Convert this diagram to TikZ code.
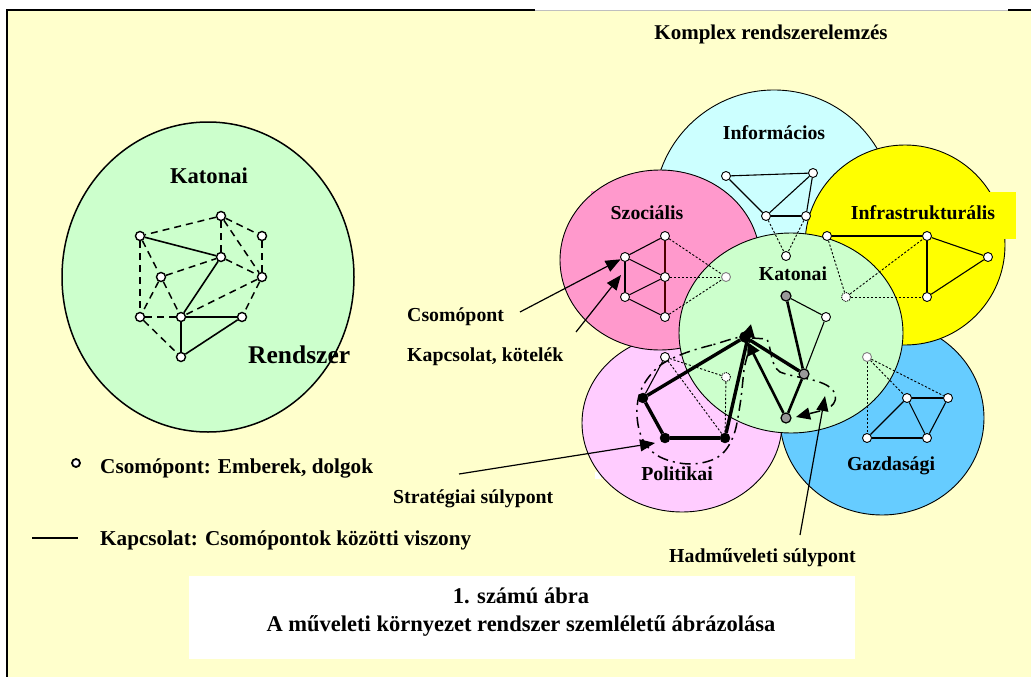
\documentclass[tikz,border=0pt]{standalone}
\usepackage{fontspec}
\setmainfont{Liberation Serif}
\usetikzlibrary{arrows.meta}
\definecolor{cream}{HTML}{FFFFCC}
\definecolor{mint}{HTML}{CCFFCC}
\definecolor{skyc}{HTML}{CCFFFF}
\definecolor{rosec}{HTML}{FF99CC}
\definecolor{lemon}{HTML}{FFFF00}
\definecolor{lilac}{HTML}{FFCCFF}
\definecolor{azure}{HTML}{66CCFF}
\definecolor{nodegray}{HTML}{999999}
\newcommand\lblfont[1]{\fontsize{#1}{#1}\selectfont\bfseries}
\pgfdeclarelayer{bg}
\pgfdeclarelayer{edgelayer}
\pgfsetlayers{bg,edgelayer,main}

\begin{document}
\begin{tikzpicture}[x=1pt,y=-1pt,
  lwn/.style={circle,draw,fill=white,inner sep=0pt,minimum size=9pt,line width=1.4pt},
  wn/.style={circle,draw,fill=white,inner sep=0pt,minimum size=9pt,line width=0.9pt},
  pwn/.style={wn,draw=black!50},
  dwn/.style={wn,dash pattern=on 1pt off 1pt},
  gn/.style={circle,draw,fill=nodegray,inner sep=0pt,minimum size=10pt,line width=1.2pt},
  bn/.style={circle,draw,fill=black,inner sep=0pt,minimum size=10pt},
  sol/.style={line width=1.1pt},
  thk/.style={line width=3.4pt},
  mid/.style={line width=2.6pt},
  dsh/.style={line width=1.5pt,dash pattern=on 7pt off 5pt},
  fdot/.style={line width=0.9pt,dash pattern=on 2.2pt off 1.8pt},
  ddot/.style={line width=1.5pt,dash pattern=on 11pt off 5pt on 2pt off 5pt},
  bigtip/.style={-{Triangle[length=15pt,width=12pt]}},
  ptr/.style={line width=1.2pt,bigtip},
  circ/.style={line width=0.9pt},
  lab/.style={inner sep=0pt,anchor=base,font=\lblfont{19.8}},
]
\useasboundingbox (0,0) rectangle (1031,677);

\begin{pgfonlayer}{bg}
% page and frame
\fill[white] (0,0) rectangle (1031,677);
\fill[cream] (7,10) rectangle (1031,677);
\draw[black!25,line width=0.8pt] (535,10) -- (1008,10);
\draw[line width=1.3pt] (7,677) -- (7,10) -- (535,10);
\draw[line width=1.3pt] (1008,10) -- (1031,10);

% single-system view
\draw[fill=mint,line width=1.5pt] (208,277) ellipse [x radius=146pt,y radius=155pt];

% complex system view: overlapping subsystems
\draw[fill=skyc,circ] (774,210) circle [radius=120pt];
\fill[white] (595,472) rectangle (601,479);
\draw[fill=lilac,circ] (682,423) ellipse [x radius=100pt,y radius=89pt];
\fill[rosec] (591,191) rectangle (702,232);
\draw[fill=rosec,circ] (660,260) ellipse [x radius=100pt,y radius=90pt];
\draw[fill=azure,circ] (882,418) ellipse [x radius=102pt,y radius=97pt];
\draw[fill=lemon,circ] (905,245) circle [radius=100pt];
\fill[lemon] (845,192) rectangle (1016,239);
\draw[fill=mint,circ] (791,333) ellipse [x radius=112pt,y radius=100pt];

% titles and labels
\node[lab,font=\lblfont{21}] (title) at (771,40) {Komplex rendszerelemzés};
\node[lab] (tinf) at (774,139) {Informácios};
\node[lab] (tszo) at (647,219) {Szociális};
\node[lab] (tinfra) at (923,219) {Infrastrukturális};
\node[lab] (tkat) at (793,280) {Katonai};
\node[lab] (tgaz) at (891,470) {Gazdasági};
\node[lab] (tpol) at (677,480) {Politikai};
\node[lab,font=\lblfont{22.6}] (lkat) at (209,183) {Katonai};
\node[lab,font=\lblfont{25.5},anchor=base west] (lren) at (248,363) {Rendszer};
\node[lab,anchor=base west] (tcso) at (407,321) {Csomópont};
\node[lab,anchor=base west] (tkap) at (407,361) {Kapcsolat, kötelék};
\node[lab,anchor=base west] (tstr) at (393,503) {Stratégiai súlypont};
\node[lab,anchor=base west] (thad) at (669,562) {Hadműveleti súlypont};

% legend
\node[lab,font=\lblfont{21.2},anchor=base west] (leg1) at (100,473) {Csomópont: Emberek, dolgok};
\node[lab,font=\lblfont{21.2},anchor=base west] (leg2) at (100,545) {Kapcsolat: Csomópontok közötti viszony};

% caption
\node[fill=white,inner sep=0pt,minimum width=666pt,minimum height=83pt] (capbox) at (522,617.5) {};
\node[lab,font=\lblfont{22.5}] (cap1) at (521,603) {1. számú ábra};
\node[lab,font=\lblfont{22.5}] (cap2) at (521,631) {A műveleti környezet rendszer szemléletű ábrázolása};
\end{pgfonlayer}

% ---------- nodes ----------
% single system network
\node[lwn] (A) at (221,216) {};
\node[lwn] (B) at (140,236) {};
\node[lwn] (C) at (262,236) {};
\node[lwn] (D) at (221,257) {};
\node[lwn] (E) at (161,277) {};
\node[lwn] (F) at (262,277) {};
\node[lwn] (G) at (140,317) {};
\node[lwn] (H) at (181,317) {};
\node[lwn] (I) at (242,317) {};
\node[lwn] (J) at (181,357) {};
\node[circle,draw,fill=white,line width=1.8pt,inner sep=0pt,minimum size=8pt] (legn) at (76,463) {};

% information subsystem
\node[wn] (i1) at (726,176) {};
\node[wn] (i2) at (813,173) {};
\node[wn] (i3) at (766,216) {};
\node[wn] (i4) at (806,216) {};
% social subsystem
\node[wn] (s1) at (665,236) {};
\node[wn] (s2) at (625,257) {};
\node[wn] (s3) at (665,277) {};
\node[wn] (s4) at (625,297) {};
\node[wn] (s5) at (665,317) {};
\node[pwn] (s6) at (726,277) {};
% infrastructure subsystem
\node[wn] (f1) at (827,236) {};
\node[wn] (f2) at (927,236) {};
\node[wn] (f3) at (988,257) {};
\node[wn] (f4) at (927,297) {};
\node[dwn] (f5) at (846,297) {};
% economic subsystem
\node[pwn] (g1) at (867,357) {};
\node[wn] (g2) at (907,398) {};
\node[wn] (g3) at (948,398) {};
\node[wn] (g4) at (867,438) {};
\node[wn] (g5) at (927,438) {};
% military subsystem
\node[wn] (k1) at (786,256) {};
\node[gn] (k2) at (786,296) {};
\node[wn] (k3) at (826,317) {};
\node[gn] (k4) at (804,374) {};
\node[gn] (k5) at (786,418) {};
\node[bn,minimum size=11pt] (hub) at (745,337) {};
% political subsystem
\node[wn] (p1) at (665,357) {};
\node[bn] (p2) at (643,398) {};
\node[bn] (p3) at (665,438) {};
\node[bn] (p4) at (725,438) {};
\node[dwn] (p5) at (726,377) {};

% free ends of pointers
\coordinate (ca) at (520,312);
\coordinate (ka) at (576,332);
\coordinate (kb) at (621,275);
\coordinate (sa) at (459,474);
\coordinate (sb) at (655,443);
\coordinate (ha) at (800,535);
\coordinate (hb) at (825,396);
\coordinate (ptip) at (751,324);
\coordinate (lla) at (32,538);
\coordinate (llb) at (78,538);

% ---------- connectors ----------
\begin{pgfonlayer}{edgelayer}
% single system
\foreach \u/\v in {B/D,D/H,H/I,H/J,I/J}
  \draw[line width=1.6pt] (\u) -- (\v);
\foreach \u/\v in {A/B,A/D,A/C,A/F,C/F,D/F,B/G,B/E,E/D,E/G,E/H,F/H,F/I,G/H,G/J}
  \draw[dsh] (\u) -- (\v);
\draw[line width=2.8pt] (lla) -- (llb);

% information
\foreach \u/\v in {i1/i2,i1/i3,i3/i2,i3/i4,i4/i2}
  \draw[sol] (\u) -- (\v);
\draw[fdot] (i3) -- (k1);
\draw[fdot] (i4) -- (k1);
% social
\foreach \u/\v in {s1/s2,s2/s3,s2/s4,s4/s3,s4/s5}
  \draw[sol] (\u) -- (\v);
\draw[sol,draw=black!70!red] (s1) -- (s3);
\draw[sol,draw=black!70!red] (s3) -- (s5);
\foreach \u in {s1,s3,s5}
  \draw[fdot] (\u) -- (s6);
% infrastructure
\foreach \u/\v in {f1/f2,f2/f3,f2/f4,f4/f3}
  \draw[sol] (\u) -- (\v);
\foreach \u/\v in {f1/f5,f5/f2,f5/f4}
  \draw[fdot] (\u) -- (\v);
% economic
\foreach \u/\v in {g2/g3,g2/g4,g2/g5,g3/g5,g4/g5}
  \draw[sol] (\u) -- (\v);
\foreach \u in {g2,g3,g4}
  \draw[fdot] (g1) -- (\u);
% military
\draw[sol] (k2) -- (k3);
\draw[sol] (k3) -- (k4);
\draw[mid] (k2) -- (k4);
\draw[mid] (k4) -- (k5);
\draw[thk] (hub) -- (k4);
\draw[mid,-{Triangle[length=13pt,width=13pt]}] (k5) -- (hub);
% political
\draw[sol] (p1) -- (p2);
\draw[fdot] (p1) -- (p5);
\draw[fdot] (p1) -- (p4);
\draw[fdot] (p5) -- (p4);
\draw[thk] (hub) -- (p2);
\draw[thk] (p2) -- (p3);
\draw[thk] (p3) -- (p4);
\draw[thk,-{Triangle[length=13pt,width=13pt]}] (p4) -- (ptip);

% centres of gravity
\draw[ddot] plot[smooth cycle,tension=0.6] coordinates
  {(748,338) (712,345) (680,355) (657,368) (641,390) (637,415) (643,440)
   (660,457) (690,464) (718,457) (733,437) (740,405) (744,370)};
\draw[ddot,-{Triangle[length=14pt,width=12pt]}] (752,338) -- (767,339)
  .. controls (772,350) and (770,365) .. (780,372)
  .. controls (795,378) and (815,378) .. (828,386)
  .. controls (840,393) and (838,408) .. (820,411) -- (796,417);

% pointers from the labels
\draw[ptr] (ca) -- (s2);
\draw[ptr] (ka) -- (kb);
\draw[ptr] (sa) -- (sb);
\draw[ptr] (ha) -- (hb);
\end{pgfonlayer}
\end{tikzpicture}
\end{document}
